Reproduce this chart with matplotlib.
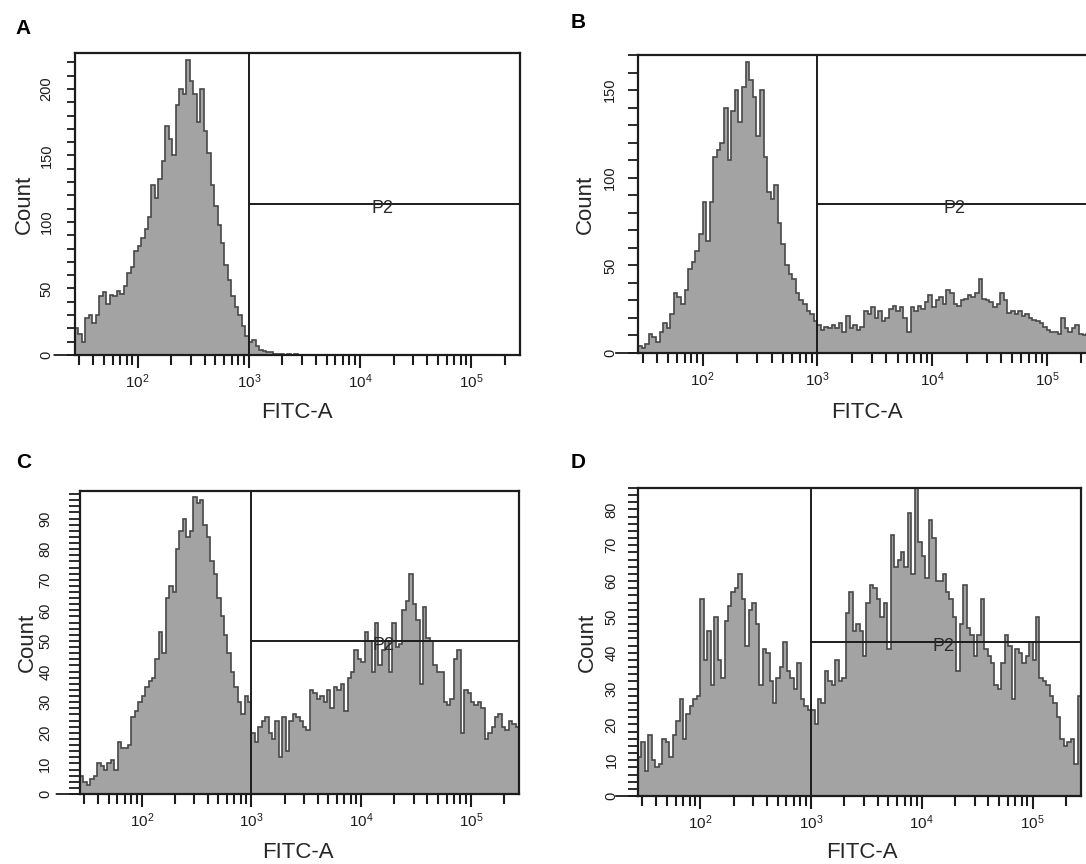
import numpy as np
import matplotlib.pyplot as plt
from matplotlib.ticker import MultipleLocator, LogLocator, NullFormatter

plt.rcParams['font.family'] = ['Liberation Sans', 'DejaVu Sans']
plt.rcParams['mathtext.default'] = 'regular'

# FITC-A channels: 128 bins, 32 per decade, starting at 10**1.4375
log_start = 1.4375
bins_per_decade = 32

counts_a = [20, 16, 10, 28, 30, 24, 30, 44, 47, 38, 45, 44, 48, 46, 52, 62,
            66, 78, 82, 88, 95, 104, 128, 118, 132, 146, 172, 162, 150, 188, 200, 196,
            222, 206, 196, 175, 200, 168, 152, 128, 112, 98, 84, 68, 56, 44, 36, 30,
            22, 14, 10, 11, 7, 4, 3, 2, 2, 1, 1, 1, 0, 1, 0, 1,
            0, 0, 0, 0, 0, 0, 0, 0, 0, 0, 0, 0, 0, 0, 0, 0,
            0, 0, 0, 0, 0, 0, 0, 0, 0, 0, 0, 0, 0, 0, 0, 0,
            0, 0, 0, 0, 0, 0, 0, 0, 0, 0, 0, 0, 0, 0, 0, 0,
            0, 0, 0, 0, 0, 0, 0, 0, 0, 0, 0, 0, 0, 0, 0, 0]

counts_b = [4, 3, 5, 11, 9, 6, 12, 17, 14, 22, 34, 32, 28, 36, 48, 52,
            58, 68, 86, 64, 86, 112, 116, 120, 140, 110, 138, 150, 132, 152, 166, 156,
            146, 124, 150, 112, 92, 88, 96, 74, 62, 50, 45, 42, 34, 30, 28, 24,
            22, 18, 16, 13, 15, 14, 16, 14, 17, 12, 21, 14, 16, 13, 15, 24,
            22, 26, 20, 24, 18, 20, 25, 27, 24, 26, 20, 12, 26, 24, 27, 25,
            29, 33, 26, 30, 32, 28, 36, 34, 28, 27, 30, 31, 33, 32, 34, 42,
            31, 30, 29, 26, 28, 34, 30, 23, 24, 22, 24, 21, 22, 20, 19, 18,
            17, 15, 13, 12, 12, 11, 20, 14, 12, 14, 16, 11, 10, 11, 9, 10]

counts_c = [6, 4, 3, 5, 6, 10, 9, 8, 10, 11, 8, 17, 15, 15, 16, 25,
            27, 30, 32, 35, 37, 38, 44, 53, 46, 64, 68, 66, 80, 86, 90, 84,
            86, 97, 95, 96, 88, 84, 76, 72, 64, 58, 52, 46, 40, 35, 30, 26,
            32, 30, 20, 17, 22, 24, 25, 20, 18, 24, 12, 25, 14, 24, 26, 25,
            24, 22, 21, 34, 33, 31, 32, 30, 34, 28, 35, 34, 36, 27, 38, 40,
            47, 44, 43, 53, 50, 40, 56, 42, 47, 50, 40, 56, 48, 49, 60, 63,
            72, 62, 57, 36, 61, 51, 50, 42, 40, 40, 30, 29, 31, 44, 47, 20,
            34, 33, 30, 29, 30, 28, 18, 20, 22, 25, 26, 22, 21, 24, 23, 22]

counts_d = [11, 15, 7, 17, 10, 8, 9, 16, 15, 11, 17, 21, 27, 16, 23, 25,
            27, 28, 55, 38, 46, 31, 50, 38, 33, 49, 53, 57, 58, 62, 55, 42,
            52, 54, 48, 31, 41, 40, 32, 26, 33, 36, 43, 35, 33, 30, 37, 27,
            25, 24, 24, 20, 27, 26, 35, 32, 31, 38, 32, 33, 51, 57, 46, 48,
            46, 39, 54, 59, 58, 55, 50, 54, 41, 73, 64, 66, 68, 64, 79, 62,
            86, 71, 67, 61, 77, 72, 60, 60, 62, 57, 55, 50, 35, 48, 59, 47,
            45, 39, 45, 55, 41, 39, 37, 31, 30, 37, 45, 42, 27, 41, 40, 37,
            39, 43, 38, 50, 33, 32, 31, 28, 26, 22, 16, 14, 15, 16, 9, 28]

panel_counts = [counts_a, counts_b, counts_c, counts_d]
panel_letters = ['A', 'B', 'C', 'D']
y_tops = [227, 170, 99, 86]
y_label_steps = [50, 50, 10, 10]
y_minor_steps = [10, 10, 2, 2]
gate_levels = [113.5, 85, 50, 43]
gate_start = 1e3
p2_position = 10 ** 4.2
decades = [1e2, 1e3, 1e4, 1e5]
decade_labels = ['$10^2$', '$10^3$', '$10^4$', '$10^5$']

W, H = 1086, 864

# pixel boxes of the four plots (x0, y0, x1, y1), B runs past the right edge
boxes = [(75, 53, 520, 355), (638, 55, 1097, 353),
         (80, 491, 519, 794), (638, 488, 1081, 796)]
letter_xy = [(15, 28), (571, 23), (16, 463), (571, 463)]
count_x = [24, 585, 27, 587]
fitc_xy = [(297, 412), (867, 412), (298, 852), (862, 852)]
ytick_len = [5.5, 7, 8, 7]
ytick_pad = [10, 8, 12, 7]
zero_tick = [15, 16, 17, 16]

fill_color = '#a3a3a3'
edge_color = '#484848'
ink = '#1c1c1c'

fig = plt.figure(figsize=(W / 100, H / 100), dpi=100)

edges = 10 ** (log_start + np.arange(len(counts_a) + 1) / bins_per_decade)

for k in range(4):
    x0, y0, x1, y1 = boxes[k]
    ax = fig.add_axes([x0 / W, 1 - y1 / H, (x1 - x0) / W, (y1 - y0) / H])

    vals = np.array(panel_counts[k])
    ax.stairs(vals, edges, fill=True, color=fill_color, lw=0, zorder=1)
    ax.stairs(vals, edges, color=edge_color, lw=1.2, zorder=2)

    ax.set_xscale('log')
    ax.set_xlim(edges[0], edges[-1])
    ax.set_ylim(0, y_tops[k])

    # P2 gate
    ax.axvline(gate_start, color=ink, lw=1.4, zorder=3)
    ax.hlines(gate_levels[k], gate_start, edges[-1], color=ink, lw=1.4, zorder=3)
    ax.annotate('P2', (p2_position, gate_levels[k]), xytext=(0, -3),
                textcoords='offset points', ha='center', va='center',
                fontsize=13, color='#2a2a2a', zorder=4)

    for s in ax.spines.values():
        s.set_linewidth(1.6)
        s.set_color(ink)

    ax.set_xticks(decades, decade_labels)
    ax.xaxis.set_minor_locator(LogLocator(base=10, subs=np.arange(2, 10)))
    ax.xaxis.set_minor_formatter(NullFormatter())
    ax.tick_params(axis='x', which='major', direction='out', length=9.5,
                   width=1.5, pad=3, labelsize=11, colors=ink)
    ax.tick_params(axis='x', which='minor', direction='out', length=7.5,
                   width=1.5, colors=ink)

    ax.yaxis.set_major_locator(MultipleLocator(y_label_steps[k]))
    ax.yaxis.set_minor_locator(MultipleLocator(y_minor_steps[k]))
    ax.tick_params(axis='y', which='both', direction='out', length=ytick_len[k],
                   width=1.3, pad=ytick_pad[k], labelsize=10.5, labelrotation=90,
                   colors=ink)
    for lab in ax.get_yticklabels():
        lab.set_va('center')

    # the zero tick runs out to its label
    ax.annotate('', xy=(0, 0), xycoords=('axes fraction', 'data'),
                xytext=(-zero_tick[k], 0), textcoords='offset points',
                arrowprops=dict(arrowstyle='-', lw=1.3, color=ink,
                                shrinkA=0, shrinkB=0), annotation_clip=False)

    fig.text(letter_xy[k][0] / W, 1 - letter_xy[k][1] / H, panel_letters[k],
             fontsize=15, fontweight='bold', ha='left', va='center', color='black')
    fig.text(count_x[k] / W, 1 - (y0 + y1) / 2 / H, 'Count', rotation=90,
             fontsize=16, ha='center', va='center', color='#262626')
    fig.text(fitc_xy[k][0] / W, 1 - fitc_xy[k][1] / H, 'FITC-A',
             fontsize=16, ha='center', va='center', color='#262626')

fig.savefig('out.png', dpi=100, facecolor='white')
